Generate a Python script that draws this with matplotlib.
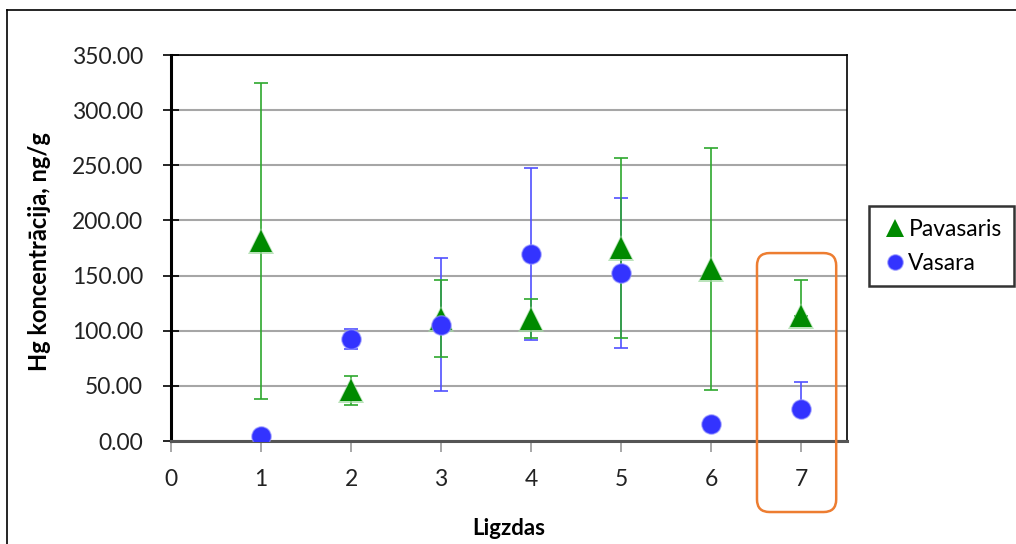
import numpy as np
import matplotlib.pyplot as plt
from matplotlib.patches import FancyBboxPatch
from matplotlib.lines import Line2D

plt.rcParams['font.family'] = ['Lato', 'DejaVu Sans']

# nest number
ligzdas = np.array([1, 2, 3, 4, 5, 6, 7])

# Pavasaris (spring) mean Hg and error (lower, upper)
pav_mean = np.array([181, 46, 111, 111, 175, 156, 113])
pav_err_lo = np.array([143, 13, 35, 18, 82, 110, 0])
pav_err_hi = np.array([144, 13, 35, 18, 82, 110, 33])

# Vasara (summer) mean Hg and error (lower, upper)
vas_mean = np.array([4.5, 92.5, 105, 169.5, 152, 15, 29])
vas_err_lo = np.array([0, 9.5, 60, 78, 68, 0, 0])
vas_err_hi = np.array([0, 9.5, 61, 78, 68, 0, 24.5])

yticks = np.arange(0, 351, 50)
xticks = np.arange(0, 8, 1)
highlight = 7

green = '#008a00'
blue = '#3333ff'

fig = plt.figure(figsize=(10.16, 5.44), dpi=100)
ax = fig.add_axes([171/1016, 1-441/544, 676/1016, 386/544])

#error bars first, markers on top
ax.errorbar(ligzdas, vas_mean, yerr=[vas_err_lo, vas_err_hi], fmt='none',
            ecolor='#5050ff', elinewidth=1.2, capsize=5, capthick=1.2, zorder=3)
ax.errorbar(ligzdas, pav_mean, yerr=[pav_err_lo, pav_err_hi], fmt='none',
            ecolor='#2ea82e', elinewidth=1.2, capsize=5, capthick=1.2, zorder=3)
# soft glow under the triangles
ax.plot(ligzdas, pav_mean, ls='none', marker='^', ms=19, color='#9fd89f',
        alpha=0.7, mew=0, zorder=4)
ax.plot(ligzdas, pav_mean, ls='none', marker='^', ms=15.5, color=green,
        mew=0, zorder=4, label='Pavasaris')
ax.plot(ligzdas, vas_mean, ls='none', marker='o', ms=14, color=blue,
        mec=(0.6, 0.6, 1.0, 0.6), mew=1, zorder=5, label='Vasara')

ax.set_xlim(0, 7.51)
ax.set_ylim(0, 350)
ax.set_xticks(xticks)
ax.set_yticks(yticks)
ax.set_yticklabels(['%.2f' % v for v in yticks])
ax.tick_params(axis='y', direction='inout', length=12, width=1.2, labelsize=16.5,
               pad=14, colors='black', labelcolor='#222222')
ax.tick_params(axis='x', direction='out', length=8, width=1.2, colors='#999999',
               labelsize=16.5, labelcolor='#222222', pad=12)
ax.yaxis.grid(True, color='#a6a6a6', lw=1.5)
ax.set_axisbelow(True)
for s in ['top', 'right']:
    ax.spines[s].set_linewidth(1.2)
ax.spines['left'].set_linewidth(2.2)
ax.spines['bottom'].set_linewidth(2.2)
ax.spines['bottom'].set_color('#555555')

ax.set_ylabel('Hg koncentrācija, ng/g', fontsize=17, fontweight='bold')
ax.yaxis.set_label_coords(-0.178, 0.49)
ax.set_xlabel('Ligzdas', fontsize=16, fontweight='bold')
ax.xaxis.set_label_coords(0.5, -0.2)

# orange box around nest 7
box = FancyBboxPatch((highlight - 0.49, -64.4), 0.88, 234.8,
                     boxstyle='round,pad=0,rounding_size=0.14',
                     mutation_aspect=81.6,
                     fill=False, ec='#ED7D31', lw=1.8, clip_on=False, zorder=6)
ax.add_patch(box)

leg = fig.legend(loc='upper left', bbox_to_anchor=(858/1016, 1-195/544),
                 fontsize=16.5, frameon=True, fancybox=False, handletextpad=0.05,
                 handlelength=1.1, borderpad=0.55, labelspacing=0.55,
                 markerscale=0.8)
leg.get_frame().set_edgecolor('black')
leg.get_frame().set_linewidth(1.8)

# outer chart border
fig.add_artist(Line2D([7/1016, 7/1016], [0, 1-10/544], color='black', lw=1.2))
fig.add_artist(Line2D([7/1016, 1], [1-10/544, 1-10/544], color='black', lw=1.2))

plt.savefig('out.png', dpi=100)
